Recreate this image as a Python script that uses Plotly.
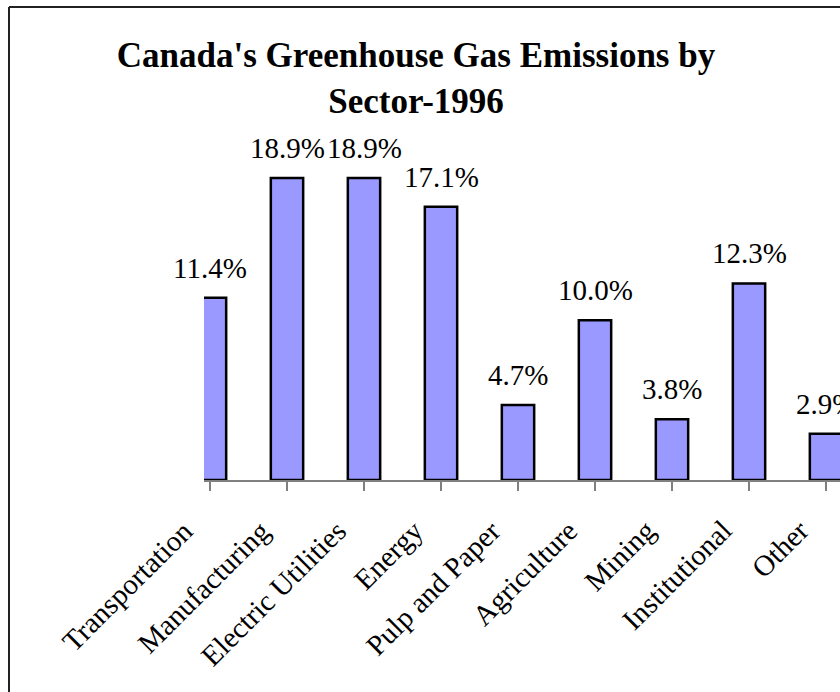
import plotly.graph_objects as go

categories = ["Transportation", "Manufacturing", "Electric Utilities", "Energy",
              "Pulp and Paper", "Agriculture", "Mining", "Institutional", "Other"]
values = [11.4, 18.9, 18.9, 17.1, 4.7, 10.0, 3.8, 12.3, 2.9]
labels = ["11.4%", "18.9%", "18.9%", "17.1%", "4.7%", "10.0%", "3.8%", "12.3%", "2.9%"]

W, H = 840, 692
L, R, T, B = 204, 0, 140, 212
pw, ph = W - L - R, H - T - B
px_per_cat = 77.0
first_tick = 210.0
x0 = (L - first_tick) / px_per_cat
x1 = x0 + pw / px_per_cat
ymax = ph / 15.98

font = "Liberation Serif, Times New Roman, serif"

fig = go.Figure()
fig.add_trace(go.Bar(
    x=list(range(len(categories))), y=values,
    marker=dict(color="#9999FF", line=dict(color="black", width=2.5)),
    width=0.42, hoverinfo="skip"))

for i, (v, t) in enumerate(zip(values, labels)):
    fig.add_annotation(x=i, y=v, xref="x", yref="y", text=t, showarrow=False,
                       yshift=30, xanchor="center", yanchor="middle",
                       font=dict(family=font, size=29, color="black"))

for i, c in enumerate(categories):
    fig.add_annotation(x=i, y=0, xref="x", yref="paper", text=c, showarrow=False,
                       textangle=-45, xanchor="right", yanchor="top",
                       xshift=-10, yshift=-33, borderpad=0,
                       font=dict(family=font, size=29, color="black"))

bx = (9 - L) / pw
by = (ph + T - 7) / ph
fig.add_shape(type="line", xref="paper", yref="paper",
              x0=bx, x1=bx, y0=-(B + 20) / ph, y1=by,
              line=dict(color="#222", width=2))
fig.add_shape(type="line", xref="paper", yref="paper",
              x0=bx, x1=(W + 20 - L) / pw, y0=by, y1=by,
              line=dict(color="#222", width=2))

fig.update_layout(
    width=W, height=H,
    margin=dict(l=L, r=R, t=T, b=B, pad=0),
    paper_bgcolor="white", plot_bgcolor="white",
    showlegend=False,
    title=dict(text="<b>Canada's Greenhouse Gas Emissions by<br>Sector-1996</b>",
               x=416 / W, xref="container", xanchor="center",
               y=1 - 67 / H, yref="container", yanchor="middle",
               font=dict(family=font, size=35, color="black")),
    xaxis=dict(range=[x0, x1], tickmode="array",
               tickvals=list(range(len(categories))),
               ticktext=[""] * len(categories),
               ticks="outside", ticklen=9, tickcolor="#808080",
               tickwidth=1.5, showline=True, linecolor="#808080", linewidth=1.5,
               showgrid=False, zeroline=False),
    yaxis=dict(range=[0, ymax], visible=False, showgrid=False, zeroline=False),
)

fig.write_html("out.html")
